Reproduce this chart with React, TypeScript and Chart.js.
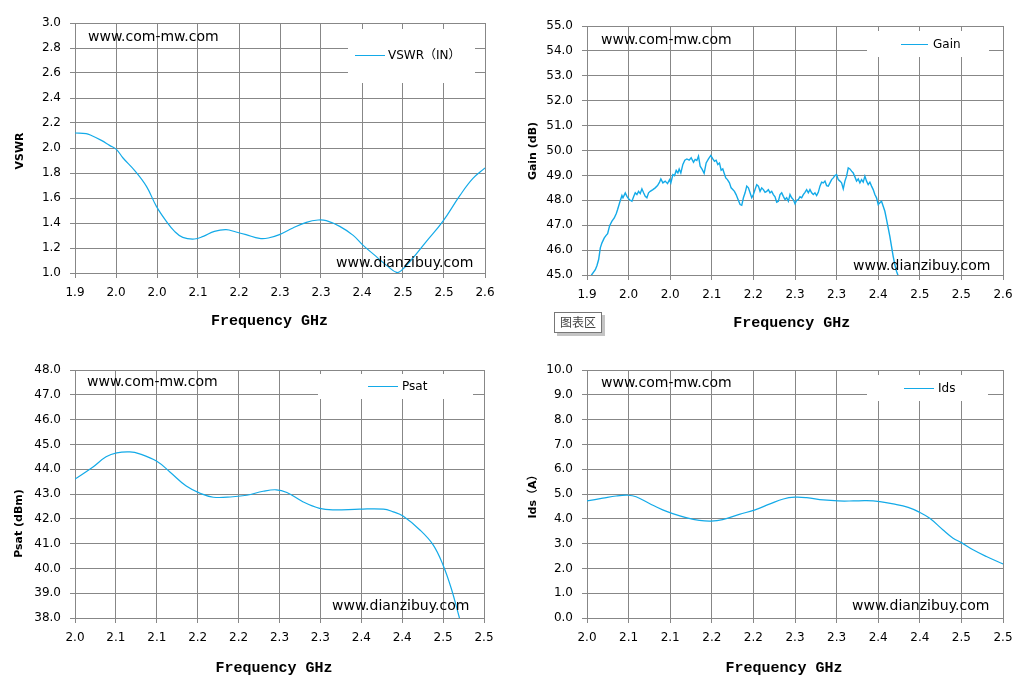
import React, { useEffect, useRef } from "react";
import { Chart, registerables } from "chart.js";

Chart.register(...registerables);

// ---------------- data ----------------
const TOP_X_TICKS = [1.9, 1.97, 2.04, 2.11, 2.18, 2.25, 2.32, 2.39, 2.46, 2.53, 2.6];
const TOP_X_LABELS = ["1.9", "2.0", "2.0", "2.1", "2.2", "2.3", "2.3", "2.4", "2.5", "2.5", "2.6"];
const BOTTOM_X_TICKS = [2.0, 2.05, 2.1, 2.15, 2.2, 2.25, 2.3, 2.35, 2.4, 2.45, 2.5];
const BOTTOM_X_LABELS = ["2.0", "2.1", "2.1", "2.2", "2.2", "2.3", "2.3", "2.4", "2.4", "2.5", "2.5"];

const VSWR_Y_TICKS = [1.0, 1.2, 1.4, 1.6, 1.8, 2.0, 2.2, 2.4, 2.6, 2.8, 3.0];
const GAIN_Y_TICKS = [45, 46, 47, 48, 49, 50, 51, 52, 53, 54, 55];
const PSAT_Y_TICKS = [38, 39, 40, 41, 42, 43, 44, 45, 46, 47, 48];
const IDS_Y_TICKS = [0, 1, 2, 3, 4, 5, 6, 7, 8, 9, 10];

const vswrFreq = [
  1.9, 1.919, 1.928, 1.945, 1.959, 1.971, 1.982, 2.002, 2.022, 2.039,
  2.056, 2.07, 2.084, 2.104, 2.119, 2.138, 2.158, 2.175, 2.192, 2.215,
  2.23, 2.249, 2.272, 2.295, 2.315, 2.329, 2.352, 2.375, 2.392, 2.414,
  2.434, 2.449, 2.457, 2.477, 2.5, 2.528, 2.557, 2.579, 2.6,
];
const vswrValues = [
  2.12, 2.115, 2.1, 2.061, 2.021, 1.987, 1.92, 1.819, 1.693, 1.533,
  1.413, 1.333, 1.285, 1.272, 1.293, 1.333, 1.347, 1.328, 1.307, 1.277,
  1.28, 1.307, 1.36, 1.405, 1.424, 1.419, 1.373, 1.301, 1.221, 1.133,
  1.053, 1.005, 1.019, 1.12, 1.253, 1.413, 1.619, 1.755, 1.84,
];

const gainPoints: [number, number][] = [
  [1.9073, 44.99], [1.914, 45.21], [1.9168, 45.38], [1.9196, 45.62], [1.9224, 46.09], [1.9252, 46.29], [1.9291, 46.49], [1.9325, 46.6], [1.9347, 46.66], [1.9381, 46.98],
  [1.942, 47.16], [1.9459, 47.29], [1.9493, 47.47], [1.9515, 47.63], [1.9549, 47.9], [1.9588, 48.19], [1.9605, 48.1], [1.9644, 48.3], [1.9672, 48.16], [1.97, 48.06],
  [1.9728, 48.0], [1.9756, 47.96], [1.9784, 48.14], [1.9812, 48.3], [1.984, 48.23], [1.9868, 48.36], [1.9896, 48.27], [1.9924, 48.46], [1.9952, 48.3], [1.998, 48.16],
  [2.0008, 48.1], [2.0036, 48.3], [2.0064, 48.36], [2.0109, 48.43], [2.0148, 48.5], [2.0187, 48.59], [2.0221, 48.73], [2.0243, 48.86], [2.0277, 48.7], [2.0316, 48.77],
  [2.0355, 48.67], [2.0389, 48.83], [2.0411, 48.7], [2.0445, 49.03], [2.0473, 48.99], [2.0501, 49.2], [2.0529, 49.1], [2.0551, 49.26], [2.0579, 49.1], [2.0613, 49.44],
  [2.0646, 49.61], [2.068, 49.66], [2.0719, 49.61], [2.0753, 49.71], [2.0792, 49.53], [2.082, 49.64], [2.0848, 49.6], [2.0876, 49.77], [2.0904, 49.37], [2.0938, 49.24],
  [2.0971, 49.08], [2.1005, 49.5], [2.1044, 49.66], [2.1083, 49.8], [2.1117, 49.66], [2.1145, 49.57], [2.1173, 49.61], [2.1201, 49.44], [2.1229, 49.5], [2.1257, 49.21],
  [2.1285, 49.26], [2.1307, 49.1], [2.1335, 48.9], [2.1363, 48.83], [2.1397, 48.7], [2.1425, 48.5], [2.1453, 48.43], [2.1481, 48.36], [2.1509, 48.23], [2.1542, 48.03],
  [2.1576, 47.83], [2.1604, 47.8],
  [2.1632, 48.1], [2.166, 48.3], [2.1688, 48.57], [2.1716, 48.5], [2.1744, 48.3], [2.1772, 48.1], [2.18, 48.23], [2.1828, 48.43], [2.1856, 48.63], [2.1884, 48.57],
  [2.1912, 48.36], [2.194, 48.5], [2.1968, 48.43], [2.1996, 48.32], [2.2024, 48.36], [2.2052, 48.43], [2.208, 48.3], [2.2108, 48.36], [2.2136, 48.23], [2.2164, 48.14],
  [2.2192, 47.92], [2.222, 47.96], [2.2248, 48.23], [2.2276, 48.3], [2.2304, 48.16], [2.2332, 48.03], [2.236, 48.1], [2.2388, 47.96], [2.2416, 48.23], [2.2444, 48.1],
  [2.2472, 48.03], [2.25, 47.86], [2.2528, 48.0], [2.2556, 48.03], [2.2584, 48.14], [2.2612, 48.1], [2.264, 48.23], [2.2668, 48.32], [2.2696, 48.43], [2.2724, 48.3],
  [2.2752, 48.43], [2.278, 48.3], [2.2808, 48.23], [2.2836, 48.3], [2.2864, 48.19], [2.2892, 48.32], [2.292, 48.57], [2.2948, 48.73], [2.2976, 48.7], [2.3004, 48.77],
  [2.3032, 48.59], [2.306, 48.57], [2.3088, 48.7], [2.3116, 48.83], [2.3144, 48.9], [2.3172, 48.99], [2.32, 49.03], [2.3228, 48.83], [2.3256, 48.77], [2.3284, 48.7],
  [2.3312, 48.46], [2.334, 48.77], [2.3368, 48.97], [2.3396, 49.3], [2.3424, 49.26], [2.3452, 49.17], [2.348, 49.1], [2.3508, 48.94], [2.3536, 48.77], [2.3564, 48.86],
  [2.3592, 48.7], [2.362, 48.83], [2.3648, 48.73], [2.3676, 48.97], [2.3704, 48.77], [2.3732, 48.63], [2.376, 48.73], [2.3788, 48.57], [2.3816, 48.43], [2.3844, 48.23],
  [2.3872, 48.1], [2.39, 47.83], [2.3928, 47.9], [2.3956, 47.96], [2.3984, 47.76], [2.4012, 47.56], [2.404, 47.23], [2.4068, 46.89], [2.4096, 46.55], [2.4124, 46.15],
  [2.4152, 45.75], [2.418, 45.42], [2.4208, 45.15], [2.4236, 44.97],
];

const psatFreq = [
  2.0, 2.022, 2.038, 2.051, 2.067, 2.079, 2.1, 2.116, 2.136, 2.153,
  2.169, 2.193, 2.21, 2.23, 2.246, 2.259, 2.279, 2.299, 2.316, 2.348,
  2.377, 2.389, 2.401, 2.422, 2.438, 2.45, 2.46, 2.47,
];
const psatValues = [
  43.6, 44.09, 44.5, 44.66, 44.7, 44.62, 44.32, 43.89, 43.32, 43.03,
  42.87, 42.89, 42.95, 43.11, 43.17, 43.06, 42.68, 42.42, 42.36, 42.39,
  42.39, 42.28, 42.11, 41.54, 40.94, 40.13, 39.19, 38.0,
];

const idsFreq = [
  2.0, 2.019, 2.035, 2.049, 2.059, 2.075, 2.091, 2.103, 2.119, 2.135,
  2.149, 2.163, 2.183, 2.202, 2.22, 2.236, 2.25, 2.264, 2.284, 2.302,
  2.32, 2.336, 2.352, 2.368, 2.386, 2.4, 2.412, 2.428, 2.44, 2.45,
  2.464, 2.48, 2.5,
];
const idsValues = [
  4.72, 4.83, 4.92, 4.95, 4.89, 4.62, 4.36, 4.21, 4.05, 3.94,
  3.91, 3.97, 4.18, 4.36, 4.6, 4.8, 4.87, 4.85, 4.76, 4.72,
  4.72, 4.73, 4.69, 4.6, 4.46, 4.26, 4.02, 3.55, 3.22, 3.04,
  2.75, 2.48, 2.18,
];

// ---------------- styles ----------------
const LINE_COLOR = "#13AAE8";
const GRID_COLOR = "#878787";
const TICK_FONT = { family: "'DejaVu Sans', sans-serif", size: 12 };
const X_TITLE = "Frequency GHz";
const WM1 = "www.com-mw.com";
const WM2 = "www.dianzibuy.com";

const PANELS = [
  {
    key: "vswr", ox: 0, oy: 0, w: 515, h: 345,
    area: { left: 75, right: 485, top: 23, bottom: 273 },
    label: "VSWR（IN）",
    points: vswrFreq.map((f, i) => ({ x: f, y: vswrValues[i] })),
    xMin: 1.9, xMax: 2.6, xTicks: TOP_X_TICKS, xLabels: TOP_X_LABELS,
    yMin: 1, yMax: 3, yTicks: VSWR_Y_TICKS,
    tension: 0.4, lineWidth: 1.2,
    xTitle: { text: X_TITLE, x: 269.5, y: 321 },
    yTitle: { text: "VSWR", x: 20, y: 151 },
    legend: { x0: 348, y0: 29, x1: 475, y1: 83, lx0: 355, lx1: 385, ly: 55, tx: 388 },
    marks: [{ text: WM1, x: 88, y: 41 }, { text: WM2, x: 336, y: 267 }],
  },
  {
    key: "gain", ox: 515, oy: 0, w: 515, h: 345,
    area: { left: 587, right: 1003, top: 26, bottom: 275 },
    label: "Gain",
    points: gainPoints.map(([f, v]) => ({ x: f, y: v })),
    xMin: 1.9, xMax: 2.6, xTicks: TOP_X_TICKS, xLabels: TOP_X_LABELS,
    yMin: 45, yMax: 55, yTicks: GAIN_Y_TICKS,
    tension: 0, lineWidth: 1.4,
    xTitle: { text: X_TITLE, x: 791.7, y: 323.5 },
    yTitle: { text: "Gain (dB)", x: 533, y: 151 },
    legend: { x0: 867, y0: 31, x1: 989, y1: 57, lx0: 901, lx1: 928, ly: 44, tx: 933 },
    marks: [{ text: WM1, x: 601, y: 44 }, { text: WM2, x: 853, y: 270 }],
    note: { x0: 554, y0: 312, x1: 602, y1: 333, text: "图表区" },
  },
  {
    key: "psat", ox: 0, oy: 345, w: 515, h: 351,
    area: { left: 75, right: 484, top: 370, bottom: 618 },
    label: "Psat",
    points: psatFreq.map((f, i) => ({ x: f, y: psatValues[i] })),
    xMin: 2.0, xMax: 2.5, xTicks: BOTTOM_X_TICKS, xLabels: BOTTOM_X_LABELS,
    yMin: 38, yMax: 48, yTicks: PSAT_Y_TICKS,
    tension: 0.4, lineWidth: 1.2,
    xTitle: { text: X_TITLE, x: 274, y: 668.5 },
    yTitle: { text: "Psat (dBm)", x: 19, y: 523.5 },
    legend: { x0: 318, y0: 374, x1: 473, y1: 399, lx0: 368, lx1: 398, ly: 386, tx: 402 },
    marks: [{ text: WM1, x: 87, y: 386 }, { text: WM2, x: 332, y: 610 }],
  },
  {
    key: "ids", ox: 515, oy: 345, w: 515, h: 351,
    area: { left: 587, right: 1003, top: 370, bottom: 618 },
    label: "Ids",
    points: idsFreq.map((f, i) => ({ x: f, y: idsValues[i] })),
    xMin: 2.0, xMax: 2.5, xTicks: BOTTOM_X_TICKS, xLabels: BOTTOM_X_LABELS,
    yMin: 0, yMax: 10, yTicks: IDS_Y_TICKS,
    tension: 0.4, lineWidth: 1.2,
    xTitle: { text: X_TITLE, x: 784, y: 668.5 },
    yTitle: { text: "Ids（A）", x: 533, y: 494 },
    legend: { x0: 867, y0: 375, x1: 988, y1: 401, lx0: 904, lx1: 934, ly: 388, tx: 938 },
    marks: [{ text: WM1, x: 601, y: 387 }, { text: WM2, x: 852, y: 610 }],
  },
];

function makeDeco(s: any) {
  return {
    id: "deco_" + s.key,
    afterDraw(chart: any) {
      const ctx = chart.ctx;
      const ox = s.ox, oy = s.oy;
      ctx.save();
      // watermarks
      ctx.fillStyle = "#000";
      ctx.font = "14px 'DejaVu Sans', sans-serif";
      ctx.textAlign = "left";
      ctx.textBaseline = "alphabetic";
      for (const m of s.marks) ctx.fillText(m.text, m.x - ox, m.y - oy);
      // legend
      const L = s.legend;
      ctx.fillStyle = "#fff";
      ctx.fillRect(L.x0 - ox, L.y0 - oy, L.x1 - L.x0, L.y1 - L.y0);
      ctx.strokeStyle = LINE_COLOR;
      ctx.lineWidth = 1;
      ctx.beginPath();
      ctx.moveTo(L.lx0 - ox, L.ly - oy + 0.5);
      ctx.lineTo(L.lx1 - ox, L.ly - oy + 0.5);
      ctx.stroke();
      ctx.fillStyle = "#000";
      ctx.font = "12px 'DejaVu Sans', 'Noto Sans CJK SC', sans-serif";
      ctx.textBaseline = "middle";
      ctx.fillText(chart.data.datasets[0].label, L.tx - ox, L.ly - oy + 0.5);
      // x title
      ctx.font = "bold 15px 'Liberation Mono', monospace";
      ctx.textAlign = "center";
      ctx.fillText(s.xTitle.text, s.xTitle.x - ox, s.xTitle.y - oy);
      // y title
      ctx.save();
      ctx.translate(s.yTitle.x - ox, s.yTitle.y - oy);
      ctx.rotate(-Math.PI / 2);
      ctx.font = "bold 11px 'DejaVu Sans', 'Noto Sans CJK SC', sans-serif";
      ctx.fillText(s.yTitle.text, 0, 0);
      ctx.restore();
      // tooltip-like note box
      if (s.note) {
        const n = s.note;
        const w = n.x1 - n.x0, h = n.y1 - n.y0;
        ctx.fillStyle = "#c4c4c4";
        ctx.fillRect(n.x0 - ox + 3, n.y0 - oy + 3, w, h);
        ctx.fillStyle = "#fff";
        ctx.fillRect(n.x0 - ox, n.y0 - oy, w, h);
        ctx.strokeStyle = "#777";
        ctx.strokeRect(n.x0 - ox + 0.5, n.y0 - oy + 0.5, w - 1, h - 1);
        ctx.fillStyle = "#444";
        ctx.font = "12px 'Noto Sans CJK SC', sans-serif";
        ctx.textAlign = "center";
        ctx.textBaseline = "middle";
        ctx.fillText(n.text, n.x0 - ox + w / 2, n.y0 - oy + h / 2);
      }
      ctx.restore();
    },
  };
}

function buildConfig(s: any): any {
  const gridOpts = { color: GRID_COLOR, lineWidth: 1, drawTicks: true, tickLength: 5 };
  return {
    type: "line",
    data: {
      datasets: [
        {
          label: s.label,
          data: s.points,
          borderColor: LINE_COLOR,
          backgroundColor: LINE_COLOR,
          borderWidth: s.lineWidth,
          pointRadius: 0,
          pointHoverRadius: 0,
          tension: s.tension,
          fill: false,
        },
      ],
    },
    options: {
      responsive: false,
      maintainAspectRatio: false,
      animation: false,
      events: [],
      layout: {
        padding: { left: 0, bottom: 0, top: s.area.top - s.oy, right: s.ox + s.w - s.area.right },
      },
      plugins: { legend: { display: false }, tooltip: { enabled: false }, title: { display: false } },
      scales: {
        x: {
          type: "linear",
          position: "bottom",
          min: s.xMin,
          max: s.xMax,
          afterBuildTicks: (sc: any) => {
            sc.ticks = s.xTicks.map((v: number) => ({ value: v }));
          },
          afterFit: (sc: any) => {
            sc.height = s.oy + s.h - s.area.bottom;
          },
          ticks: {
            autoSkip: false,
            maxRotation: 0,
            minRotation: 0,
            padding: 8,
            color: "#000",
            font: TICK_FONT,
            callback: (_v: any, i: number) => s.xLabels[i],
          },
          grid: gridOpts,
          border: { display: true, color: GRID_COLOR, width: 1 },
        },
        y: {
          type: "linear",
          position: "left",
          min: s.yMin,
          max: s.yMax,
          afterBuildTicks: (sc: any) => {
            sc.ticks = s.yTicks.map((v: number) => ({ value: v }));
          },
          afterFit: (sc: any) => {
            sc.width = s.area.left - s.ox;
          },
          ticks: {
            autoSkip: false,
            padding: 9,
            color: "#000",
            font: TICK_FONT,
            callback: (v: any) => Number(v).toFixed(1),
          },
          grid: gridOpts,
          border: { display: true, color: GRID_COLOR, width: 1 },
        },
      },
    },
    plugins: [makeDeco(s)],
  };
}

function Panel({ spec }: { spec: any }) {
  const ref = useRef<HTMLCanvasElement | null>(null);
  useEffect(() => {
    if (!ref.current) return;
    const chart = new Chart(ref.current, buildConfig(spec));
    return () => chart.destroy();
  }, [spec]);
  return (
    <canvas
      ref={ref}
      width={spec.w}
      height={spec.h}
      style={{ position: "absolute", left: spec.ox, top: spec.oy, width: spec.w, height: spec.h }}
    />
  );
}

export default function App() {
  return (
    <div
      style={{
        position: "fixed",
        left: 0,
        top: 0,
        width: 1030,
        height: 696,
        background: "#fff",
        overflow: "hidden",
      }}
    >
      {PANELS.map((p) => (
        <Panel key={p.key} spec={p} />
      ))}
    </div>
  );
}
